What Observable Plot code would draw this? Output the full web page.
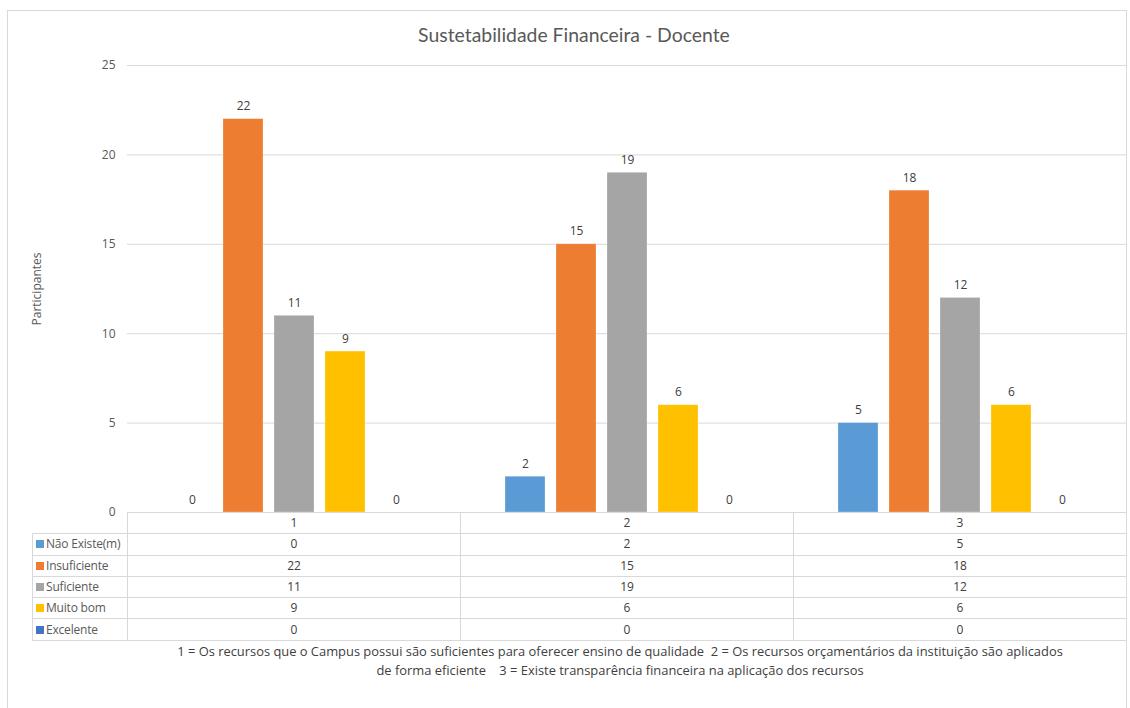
<!DOCTYPE html>
<html>
<head>
<meta charset="utf-8">
<script src="https://cdn.jsdelivr.net/npm/d3@7"></script>
<script src="https://cdn.jsdelivr.net/npm/@observablehq/plot@0.6"></script>
<style>
  html, body { margin: 0; padding: 0; background: #fff; }
  body { width: 1130px; height: 708px; overflow: hidden; font-family: Carlito, Calibri, Lato, sans-serif; }
  #wrap { position: relative; width: 1130px; height: 708px; }
  #frame { position: absolute; left: 7px; top: 10px; width: 1120px; height: 720px; border: 1px solid #d9d9d9; box-sizing: border-box; }
  #title { position: absolute; left: 0; top: 21px; width: 1148px; text-align: center; font-size: 19.4px; color: #595959; line-height: 28px; font-family: Lato, sans-serif; }
  #chart { position: absolute; left: 0; top: 50px; }
  #tbl { position: absolute; left: 32px; top: 512px; border-collapse: collapse; font-size: 12px; color: #404040; font-family: "Open Sans", sans-serif; }
  #tbl td { border: 1px solid #d9d9d9; height: 21.3px; padding: 0; box-sizing: border-box; text-align: center; line-height: 14px; }
  #tbl td.lab { width: 95px; text-align: left; padding-left: 3px; color: #595959; white-space: nowrap; letter-spacing: -0.2px; }
  #tbl td.blank { border: none; border-right: 1px solid #d9d9d9; border-bottom: 1px solid #d9d9d9; }
  #tbl td.val { width: 333px; }
  .sw { display: inline-block; width: 8px; height: 8px; margin-right: 2px; }
  #caption { position: absolute; left: 120px; top: 642px; width: 1000px; text-align: center; font-size: 12.9px; color: #404040; line-height: 19px; font-family: "Open Sans", sans-serif; white-space: nowrap; }
</style>
</head>
<body>
<div id="wrap">
  <div id="frame"></div>
  <div id="title"></div>
  <div id="chart"></div>
  <table id="tbl"></table>
  <div id="caption"></div>
</div>
<script>
// ---- data ----
const titleText = "Sustetabilidade Financeira - Docente";
const yLabel = "Participantes";
const questions = ["1", "2", "3"];
const categories = ["Não Existe(m)", "Insuficiente", "Suficiente", "Muito bom", "Excelente"];
const colors = ["#5B9BD5", "#ED7D31", "#A5A5A5", "#FFC000", "#4472C4"];
const naoExiste = [0, 2, 5];
const insuficiente = [22, 15, 18];
const suficiente = [11, 19, 12];
const muitoBom = [9, 6, 6];
const excelente = [0, 0, 0];
const yTicks = [0, 5, 10, 15, 20, 25];
const captionLines = [
  "1 = Os recursos que o Campus possui são suficientes para oferecer ensino de qualidade  2 = Os recursos orçamentários da instituição são aplicados",
  "de forma eficiente    3 = Existe transparência financeira na aplicação dos recursos"
];

const series = [naoExiste, insuficiente, suficiente, muitoBom, excelente];
const data = [];
questions.forEach((q, qi) => {
  categories.forEach((c, ci) => data.push({ q, cat: c, value: series[ci][qi] }));
});

document.getElementById("title").textContent = titleText;

const plot = Plot.plot({
  width: 1130,
  height: 470,
  marginLeft: 127,
  marginRight: 4,
  marginTop: 15,
  marginBottom: 8,
  style: { fontFamily: "\"Open Sans\", sans-serif", fontSize: "12px", color: "#595959", background: "transparent" },
  fx: { domain: questions, padding: 0, axis: null },
  x: { domain: categories, paddingInner: 0.219, paddingOuter: 0.861, axis: null },
  y: { domain: [0, 25] },
  color: { domain: categories, range: colors },
  marks: [
    Plot.gridY(yTicks, { stroke: "#d9d9d9", strokeOpacity: 1 }),
    Plot.axisY(yTicks, { tickSize: 0, tickPadding: 12, fontSize: 12, label: yLabel, labelAnchor: "center", labelArrow: "none", labelOffset: 95 }),
    Plot.barY(data, { fx: "q", x: "cat", y: "value", fill: "cat", stroke: "#ffffff", strokeOpacity: 0.35, strokeWidth: 0.7 }),
    Plot.text(data, { fx: "q", x: "cat", y: "value", text: d => String(d.value), dy: -9, lineAnchor: "bottom", fill: "#404040", fontSize: 12 })
  ]
});
document.getElementById("chart").appendChild(plot);

// ---- data table ----
const tbl = document.getElementById("tbl");
let hdr = "<tr><td class='blank lab'></td>" + questions.map(q => `<td class='val'>${q}</td>`).join("") + "</tr>";
let rows = categories.map((c, ci) =>
  `<tr><td class='lab'><span class='sw' style='background:${colors[ci]}'></span>${c}</td>` +
  series[ci].map(v => `<td class='val'>${v}</td>`).join("") + "</tr>").join("");
tbl.innerHTML = hdr + rows;

document.getElementById("caption").innerHTML = captionLines.map(l => l.replace(/  /g, "&nbsp;&nbsp;")).join("<br>");
</script>
</body>
</html>
